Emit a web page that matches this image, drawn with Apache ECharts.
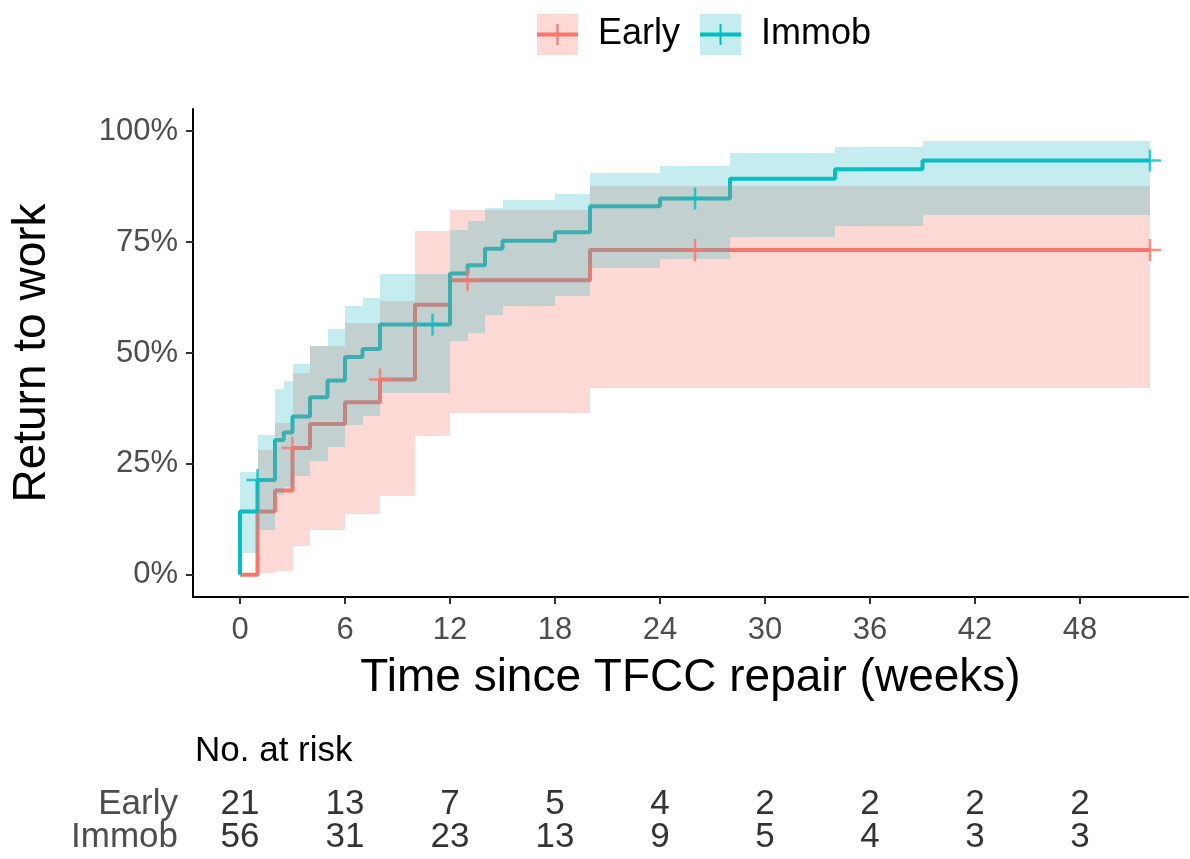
<!DOCTYPE html>
<html><head><meta charset="utf-8">
<script src="https://cdn.jsdelivr.net/npm/echarts@6/dist/echarts.min.js"></script>
<style>html,body{margin:0;padding:0;background:#fff}#chart{width:1190px;height:859px}</style>
</head><body><div id="chart"></div>
<script>
// ---------- data ----------
const groups = ['Early', 'Immob'];

// Kaplan-Meier cumulative return-to-work (%)
const earlyTimes = [0, 1, 2, 3, 4, 6, 8, 10, 12, 20, 52];
const earlyEst   = [0, 14.3, 19.0, 28.6, 34.0, 38.9, 44.0, 60.9, 66.4, 73.2, 73.2];
const immobTimes = [0, 0, 1, 2, 2.5, 3, 4, 5, 6, 7, 8, 12, 13, 14, 15, 18, 20, 24, 28, 34, 39, 52];
const immobEst   = [0, 14.3, 21.4, 30.4, 32.1, 35.7, 40.0, 43.8, 49.1, 50.9, 56.4, 67.9, 69.8, 73.5, 75.3, 77.2, 83.1, 84.8, 89.3, 91.4, 93.4, 93.4];

// censor marks
const earlyCensorT = [3, 8, 13, 26, 52];
const earlyCensorY = [28.6, 44.0, 66.4, 73.2, 73.2];
const immobCensorT = [1, 11, 26, 52];
const immobCensorY = [21.4, 56.4, 84.8, 93.4];

// confidence bands (interval start, end, lower, upper)
const earlyBandStart = [1, 2, 3, 4, 6, 8, 10, 12, 20];
const earlyBandEnd   = [2, 3, 4, 6, 8, 10, 12, 20, 52];
const earlyLower     = [0.4, 0.8, 6.6, 10.0, 13.7, 17.7, 31.2, 36.5, 42.1];
const earlyUpper     = [28.2, 34.2, 45.6, 51.5, 56.8, 61.7, 77.4, 82.3, 87.6];

const immobBandStart = [0, 1, 2, 2.5, 3, 4, 5, 6, 7, 8, 12, 13, 14, 15, 18, 20, 24, 28, 34, 39];
const immobBandEnd   = [1, 2, 2.5, 3, 4, 5, 6, 7, 8, 12, 13, 14, 15, 18, 20, 24, 28, 34, 39, 52];
const immobLower     = [5.0, 10.2, 18.0, 19.8, 22.2, 25.6, 28.8, 33.8, 35.7, 41.0, 52.6, 54.5, 58.6, 60.5, 62.8, 69.2, 71.3, 76.2, 78.6, 81.1];
const immobUpper     = [23.1, 31.6, 41.8, 43.7, 47.5, 51.5, 55.3, 60.5, 62.4, 67.7, 77.8, 79.7, 82.7, 84.6, 85.9, 90.6, 92.1, 95.1, 96.4, 97.7];

// axis ticks
const xTicks = [0, 6, 12, 18, 24, 30, 36, 42, 48];
const yTicks = [0, 25, 50, 75, 100];

// number at risk
const riskTimes = [0, 6, 12, 18, 24, 30, 36, 42, 48];
const riskEarly = [21, 13, 7, 5, 4, 2, 2, 2, 2];
const riskImmob = [56, 31, 23, 13, 9, 5, 4, 3, 3];

// ---------- styling ----------
const FONT = "'Liberation Sans', Arial, Helvetica, sans-serif";
const RED = '#F8766D', TEAL = '#00BFC4';
const RED_BAND = 'rgba(248,118,109,0.28)', TEAL_BAND = 'rgba(38,184,191,0.265)';
const GREY = '#4D4D4D';
const PLUS = 'path://M9.75,0H12.25V9.75H22V12.25H12.25V22H9.75V12.25H0V9.75H9.75Z';
const KEY = 'path://M0,8.5H41V12.5H0Z M19.5,0H21.5V21H19.5Z';
const XMIN = -2.686, XMAX = 54.17;

function zip(a, b) { return a.map((v, i) => [v, b[i]]); }
function band(s, e, lo, hi) { return s.map((v, i) => [v, e[i], lo[i], hi[i]]); }

function bandSeries(name, data, color) {
  return {
    name, type: 'custom', z: 3, silent: true, itemStyle: { color },
    encode: { x: [0, 1], y: [2, 3] },
    data,
    renderItem(params, api) {
      const a = api.coord([api.value(0), api.value(3)]);
      const b = api.coord([api.value(1), api.value(2)]);
      const x0 = Math.round(a[0]), x1 = Math.round(b[0]);
      const y0 = Math.round(a[1]), y1 = Math.round(b[1]);
      return { type: 'rect', shape: { x: x0, y: y0, width: x1 - x0, height: y1 - y0 }, style: { fill: color } };
    }
  };
}
function lineSeries(name, data, color) {
  return { name, type: 'line', step: 'end', z: 2, showSymbol: false, silent: true,
    lineStyle: { color, width: 4 }, itemStyle: { color }, data };
}
function censorSeries(name, data, color) {
  return { name, type: 'scatter', z: 4, symbol: PLUS, symbolSize: 22, silent: true,
    itemStyle: { color }, data };
}
function riskSeries(name, row, vals) {
  return { name, type: 'scatter', xAxisIndex: 1, yAxisIndex: 1, symbolSize: 1, silent: true,
    itemStyle: { color: 'rgba(0,0,0,0)' },
    label: { show: true, position: 'inside', formatter: p => String(p.value[2]),
      fontSize: 35, color: '#000', fontFamily: FONT },
    data: riskTimes.map((t, i) => [t, row, vals[i]]) };
}

const legendText = { fontSize: 36, fontFamily: FONT, color: '#000', lineHeight: 41, padding: [0, 0, 0, 15] };

const option = {
  animation: false,
  backgroundColor: '#fff',
  textStyle: { fontFamily: FONT },
  title: { text: 'No. at risk', left: 190, top: 729,
    textStyle: { fontSize: 35, fontWeight: 'normal', color: '#000', fontFamily: FONT } },
  legend: [
    { left: 532, top: 9, itemWidth: 41, itemHeight: 41, itemGap: 20, selectedMode: false,
      textStyle: legendText,
      data: [
        { name: groups[0], icon: 'rect', itemStyle: { color: RED_BAND } },
        { name: groups[1], icon: 'rect', itemStyle: { color: TEAL_BAND } }
      ] },
    { left: 532, top: 9, itemWidth: 41, itemHeight: 21, itemGap: 20, selectedMode: false,
      textStyle: Object.assign({}, legendText, { color: 'rgba(0,0,0,0)' }),
      data: [
        { name: groups[0], icon: KEY, itemStyle: { color: RED } },
        { name: groups[1], icon: KEY, itemStyle: { color: TEAL } }
      ] }
  ],
  grid: [
    { left: 193, right: 2, top: 109, bottom: 262, containLabel: false, outerBoundsMode: 'none' },
    { left: 193, right: 2, top: 788, height: 66, containLabel: false, outerBoundsMode: 'none' }
  ],
  xAxis: [
    { type: 'value', gridIndex: 0, min: XMIN, max: XMAX,
      name: 'Time since TFCC repair (weeks)', nameLocation: 'middle', nameGap: 58,
      nameTextStyle: { fontSize: 46, color: '#000', fontFamily: FONT },
      axisLine: { show: true, onZero: false, lineStyle: { color: '#000', width: 2 } },
      axisTick: { show: true, length: 7, lineStyle: { color: '#333', width: 2 }, customValues: xTicks },
      axisLabel: { fontSize: 31, color: GREY, margin: 18, customValues: xTicks, fontFamily: FONT },
      splitLine: { show: false } },
    { type: 'value', gridIndex: 1, min: XMIN, max: XMAX, show: false }
  ],
  yAxis: [
    { type: 'value', gridIndex: 0, min: -5, max: 105,
      name: 'Return to work', nameLocation: 'middle', nameGap: 138,
      nameTextStyle: { fontSize: 46, color: '#000', fontFamily: FONT },
      axisLine: { show: true, onZero: false, lineStyle: { color: '#000', width: 2 } },
      axisTick: { show: true, length: 7, lineStyle: { color: '#333', width: 2 }, customValues: yTicks },
      axisLabel: { fontSize: 31, color: GREY, margin: 15, customValues: yTicks, formatter: '{value}%', fontFamily: FONT },
      splitLine: { show: false } },
    { type: 'category', gridIndex: 1, data: groups, inverse: true,
      axisLine: { show: false }, axisTick: { show: false }, splitLine: { show: false },
      axisLabel: { fontSize: 35, color: GREY, margin: 15, interval: 0, hideOverlap: false, fontFamily: FONT } }
  ],
  series: [
    bandSeries(groups[0], band(earlyBandStart, earlyBandEnd, earlyLower, earlyUpper), RED_BAND),
    bandSeries(groups[1], band(immobBandStart, immobBandEnd, immobLower, immobUpper), TEAL_BAND),
    lineSeries(groups[0], zip(earlyTimes, earlyEst), RED),
    lineSeries(groups[1], zip(immobTimes, immobEst), TEAL),
    censorSeries(groups[0], zip(earlyCensorT, earlyCensorY), RED),
    censorSeries(groups[1], zip(immobCensorT, immobCensorY), TEAL),
    riskSeries('riskEarly', groups[0], riskEarly),
    riskSeries('riskImmob', groups[1], riskImmob)
  ]
};

const chart = echarts.init(document.getElementById('chart'), null, { renderer: 'canvas' });
chart.setOption(option);
</script>
</body></html>
